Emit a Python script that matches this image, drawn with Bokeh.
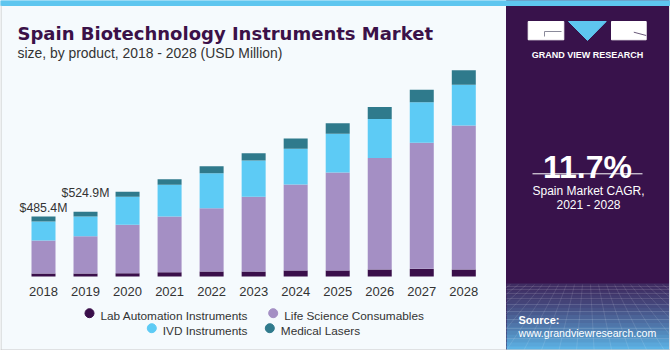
from bokeh.plotting import figure
from bokeh.models import Range1d, ColumnDataSource, Label
from bokeh.embed import file_html
from bokeh.resources import INLINE
from bokeh.core.properties import value

# ---------------- data ----------------
years = [2018, 2019, 2020, 2021, 2022, 2023, 2024, 2025, 2026, 2027, 2028]
year_labels = [str(y) for y in years]
lab_automation = [24, 24, 27, 35, 40, 40, 49, 49, 57, 62, 57]
life_science = [268, 302, 392, 451, 513, 605, 697, 794, 902, 1021, 1166]
ivd_instruments = [153, 160, 227, 257, 284, 294, 289, 313, 316, 329, 330]
medical_lasers = [40.4, 38.9, 40, 45, 57, 59, 83, 86, 97, 100, 118]
series_names = ["Lab Automation Instruments", "Life Science Consumables",
                "IVD Instruments", "Medical Lasers"]
series_colors = ["#3a0f4a", "#a48fc4", "#5dcbf5", "#2f7a8c"]
annot_years = [2018, 2019]
annot_texts = ["$485.4M", "$524.9M"]
cagr_text = "11.7%"

# ---------------- figure ----------------
PX_W, PX_H = 670, 350
p = figure(width=PX_W, height=PX_H,
           x_range=Range1d(2016.977, 2032.918),
           y_range=Range1d(-599.4, 2235.6),
           x_axis_location=None, y_axis_location=None,
           output_backend="svg", toolbar_location=None,
           min_border=0, outline_line_color=None,
           background_fill_color="#f5fafd", border_fill_color="#f5fafd")
p.grid.visible = False
p.extra_x_ranges = {"px": Range1d(0, PX_W)}
p.extra_y_ranges = {"px": Range1d(PX_H, 0)}
PX = dict(x_range_name="px", y_range_name="px")

FONT_NAME = "Liberation Sans"
FONT = value(FONT_NAME)

# right panel
p.quad(left=506, right=669, top=0, bottom=350, color="#38124b", **PX)


def mix(c1, c2, t):
    a = [int(c1[i:i + 2], 16) for i in (1, 3, 5)]
    b = [int(c2[i:i + 2], 16) for i in (1, 3, 5)]
    return "#%02x%02x%02x" % tuple(round(a[k] + (b[k] - a[k]) * t) for k in range(3))


y_start, y_end = 283, 350
n_b = 17
step = (y_end - y_start) / n_b
tops = [y_start + i * step for i in range(n_b)]
bots = [t + step + 0.6 for t in tops]
cols = [mix("#3f2d62", "#5cb2e4", (i / (n_b - 1)) ** 1.3) for i in range(n_b)]
p.quad(left=506, right=669, top=tops, bottom=bots, color=cols, line_color=None, **PX)
# faint perspective grid
hy = [286, 289, 293, 298, 304, 311, 319, 328, 338, 349]
p.segment(x0=[506] * len(hy), y0=hy, x1=[669] * len(hy), y1=hy,
          line_color="white", line_alpha=0.16, line_width=0.8, **PX)
vx_top = [510 + 8 * i for i in range(21)]
vx_bot = [587 + (x - 587) * 2.2 for x in vx_top]
p.segment(x0=vx_top, y0=[284] * len(vx_top), x1=vx_bot, y1=[350] * len(vx_top),
          line_color="white", line_alpha=0.14, line_width=0.8, **PX)
p.quad(left=669, right=670, top=0, bottom=350, color="#f5fafd", **PX)

# top strip and borders
p.quad(left=0, right=670, top=0, bottom=5, color="#5ec6ef", **PX)
p.segment(x0=[0.5, 669.5, 0], y0=[5, 5, 349.5], x1=[0.5, 669.5, 670], y1=[350, 350, 349.5],
          line_color="#c9c9c9", line_width=1, **PX)

# logo
p.quad(left=[527.7, 611], right=[563.3, 645.7], top=[21, 21], bottom=[39.3, 39.3],
       color="white", **PX)
p.patch(x=[568, 605.7, 587], y=[21, 21, 40], color="#5ec6ef", **PX)
p.segment(x0=[544, 544], y0=[31, 31], x1=[561, 544], y1=[31, 36],
          line_color="#8a8a9a", line_width=1, **PX)
p.segment(x0=[633.3], y0=[31.7], x1=[645.7], y1=[35], line_color="#6a5a7a", line_width=1, **PX)
p.add_layout(Label(x=587, y=54, text="GRAND VIEW RESEARCH", text_align="center",
                   text_baseline="alphabetic", text_font=FONT_NAME, text_font_style="bold",
                   text_font_size="9px", text_color="white", **PX))

# CAGR block
p.add_layout(Label(x=587, y=166.7, text=cagr_text, text_align="center",
                   text_baseline="alphabetic", text_font=FONT_NAME, text_font_style="bold",
                   text_font_size="32px", text_color="white", **PX))
p.segment(x0=[532], y0=[173.3], x1=[642], y1=[173.3], line_color="white", line_width=1, **PX)
p.add_layout(Label(x=588, y=190.7, text="Spain Market CAGR,", text_align="center",
                   text_baseline="alphabetic", text_font=FONT_NAME,
                   text_font_size="12px", text_color="white", **PX))
p.add_layout(Label(x=588, y=204, text="2021 - 2028", text_align="center",
                   text_baseline="alphabetic", text_font=FONT_NAME,
                   text_font_size="12px", text_color="white", **PX))
p.add_layout(Label(x=518, y=319.3, text="Source:", text_align="left",
                   text_baseline="alphabetic", text_font=FONT_NAME, text_font_style="bold",
                   text_font_size="11px", text_color="white", **PX))
p.add_layout(Label(x=518, y=332.3, text="www.grandviewresearch.com", text_align="left",
                   text_baseline="alphabetic", text_font=FONT_NAME,
                   text_font_size="10.6px", text_color="white", **PX))

# title
p.add_layout(Label(x=17, y=32.7, text="Spain Biotechnology Instruments Market",
                   text_baseline="alphabetic", text_font="DejaVu Sans",
                   text_font_style="bold", text_font_size="18px", text_color="#3b1148", **PX))
p.add_layout(Label(x=17, y=52.5, text="size, by product, 2018 - 2028 (USD Million)",
                   text_baseline="alphabetic", text_font=FONT_NAME,
                   text_font_size="13.9px", text_color="#333333", **PX))

# bars
src = ColumnDataSource(dict(year=years, lab=lab_automation, life=life_science,
                            ivd=ivd_instruments, las=medical_lasers))
p.vbar_stack(["lab", "life", "ivd", "las"], x="year", width=0.571, color=series_colors,
             line_color=None, source=src)

# year labels
ysrc = ColumnDataSource(dict(x=years, t=year_labels))
p.text(x="x", y=291, text="t", source=ysrc, text_align="center", text_baseline="alphabetic",
       text_font=FONT, text_font_size="13px", text_color="#333333", y_range_name="px")

# value annotations
totals = [a + b + c + d for a, b, c, d in zip(lab_automation, life_science,
                                              ivd_instruments, medical_lasers)]
ann_tot = [totals[years.index(y)] for y in annot_years]
asrc = ColumnDataSource(dict(x=annot_years, y=ann_tot, t=annot_texts, off=[-9, -19]))
p.text(x="x", y="y", text="t", y_offset="off", source=asrc, text_align="center",
       text_baseline="alphabetic", text_font=FONT, text_font_size="12.3px",
       text_color="#333333")

# legend
leg_x = [89, 272.7, 151.3, 269.3]
leg_y = [312.7, 312.7, 327.7, 327.7]
lsrc = ColumnDataSource(dict(x=leg_x, y=leg_y, c=series_colors, t=series_names,
                             tx=[x + 11 for x in leg_x], ty=[y + 3.2 for y in leg_y]))
p.scatter(x="x", y="y", size=9, color="c", source=lsrc, **PX)
p.text(x="tx", y="ty", text="t", source=lsrc, text_align="left", text_baseline="alphabetic",
       text_font=FONT, text_font_size="11.8px", text_color="#333333", **PX)

open("out.html", "w").write(file_html(p, INLINE))
